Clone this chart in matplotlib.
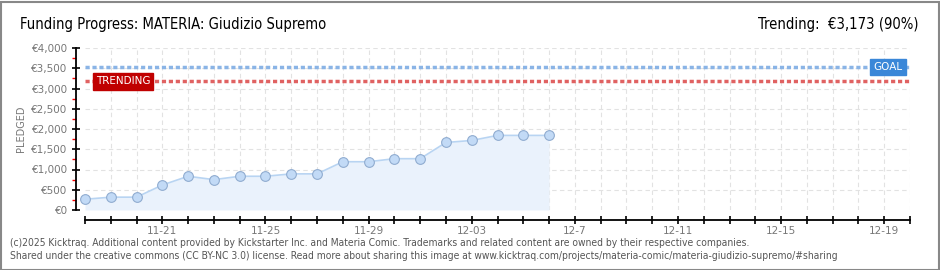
import matplotlib
matplotlib.use("Agg")
import matplotlib.pyplot as plt
import pandas as pd
import numpy as np
from matplotlib.patches import Rectangle

# ---- data ----
dates = pd.date_range("2025-11-18", "2025-12-06", freq="D")
pledged = [265, 317, 317, 617, 833, 750, 833, 833, 892, 892,
           1192, 1192, 1267, 1267, 1667, 1717, 1842, 1842, 1842]
goal = 3525
trending = 3173
xstart, xend = pd.Timestamp("2025-11-18"), pd.Timestamp("2025-12-20")
label_dates = pd.to_datetime(["2025-11-21", "2025-11-25", "2025-11-29", "2025-12-03",
                              "2025-12-07", "2025-12-11", "2025-12-15", "2025-12-19"])
label_texts = ["11-21", "11-25", "11-29", "12-03", "12-7", "12-11", "12-15", "12-19"]
y_ticks = [0, 500, 1000, 1500, 2000, 2500, 3000, 3500, 4000]
y_labels = ["€0", "€500", "€1,000", "€1,500", "€2,000", "€2,500", "€3,000", "€3,500", "€4,000"]

W, H = 940, 270
fig = plt.figure(figsize=(W / 100, H / 100), dpi=100)
fig.patch.set_facecolor("white")

grey = "#777777"
COND = dict(family="DejaVu Sans", stretch="condensed")

# frame
fig.add_artist(Rectangle((0.5 / W, 0.5 / H), 1 - 2 / W, 1 - 2 / H, transform=fig.transFigure,
                         fill=False, edgecolor="#888888", lw=1.5))

ax = fig.add_axes([85 / W, 1 - 210 / H, 825 / W, 162 / H])
ax.set_xlim(xstart, xend)
ax.set_ylim(0, 4000)

# grid
for d in pd.date_range(xstart, xend, freq="D")[1:]:
    ax.axvline(d, color="#e2e2e2", lw=0.8, ls=(0, (4, 3)), zorder=0)
for yv in y_ticks[1:]:
    ax.axhline(yv, color="#e2e2e2", lw=0.8, ls=(0, (4, 3)), zorder=0)

# series
ax.fill_between(dates, pledged, 0, color="#eaf2fc", zorder=1, lw=0)
ax.plot(dates, pledged, color="#b8d4f2", lw=1.2, zorder=2)
ax.plot(dates, pledged, ls="none", marker="o", ms=7, mfc="#c2daf6", mec="#90acd0",
        mew=0.8, zorder=3, clip_on=False)

# goal / trending lines
ax.axhline(goal, color="#8ab4e6", lw=2.5, ls=(0, (1.2, 0.8)), zorder=2)
ax.axhline(trending, color="#e06262", lw=2.5, ls=(0, (1.2, 0.8)), zorder=2)

ax.text(pd.Timestamp("2025-11-18") + pd.Timedelta(hours=10), trending, "TRENDING",
        fontsize=7.5, color="white", va="center", ha="left", zorder=5,
        bbox=dict(boxstyle="square,pad=0.3", fc="#c00000", ec="#c00000"))
ax.text(pd.Timestamp("2025-12-18") + pd.Timedelta(hours=14), goal, "GOAL",
        fontsize=7.5, color="white", va="center", ha="left", zorder=5,
        bbox=dict(boxstyle="square,pad=0.3", fc="#3a87d8", ec="#3a87d8"))

# spines
for s in ["top", "right"]:
    ax.spines[s].set_visible(False)
ax.spines["left"].set_position(("outward", 6.5))
ax.spines["bottom"].set_position(("outward", 7.2))
ax.spines["left"].set_color("black")
ax.spines["bottom"].set_color("black")
ax.spines["left"].set_linewidth(1.3)
ax.spines["bottom"].set_linewidth(1.3)

ax.set_yticks(y_ticks)
ax.set_yticklabels(y_labels, fontsize=7.5, color=grey)
ax.set_yticks(np.arange(250, 4000, 500), minor=True)
ax.tick_params(axis="y", which="major", direction="inout", length=6, width=1.2, color="black", pad=3)
ax.tick_params(axis="y", which="minor", direction="out", length=3, width=1, color="red")

ax.set_xticks(pd.date_range(xstart, xend, freq="D"), minor=True)
ax.set_xticks(label_dates)
ax.set_xticklabels(label_texts, fontsize=7.5, color=grey)
ax.tick_params(axis="x", which="both", direction="inout", length=6, width=1.2, color="black", pad=1)

ax.set_ylabel("PLEDGED", fontsize=7, color=grey, labelpad=4)

ax.set_facecolor("none")

# titles
fig.text(20 / W, 1 - 24 / H, "Funding Progress: MATERIA: Giudizio Supremo",
         fontsize=10.6, color="black", va="center", ha="left", **COND)
fig.text(918 / W, 1 - 24 / H, "Trending:  €3,173 (90%)",
         fontsize=10.6, color="black", va="center", ha="right", **COND)

# footer
fig.text(10 / W, 1 - 243 / H,
         "(c)2025 Kicktraq. Additional content provided by Kickstarter Inc. and Materia Comic. "
         "Trademarks and related content are owned by their respective companies.",
         fontsize=7.4, color="#555555", va="center", ha="left", **COND)
fig.text(10 / W, 1 - 256 / H,
         "Shared under the creative commons (CC BY-NC 3.0) license. Read more about sharing this image at "
         "www.kicktraq.com/projects/materia-comic/materia-giudizio-supremo/#sharing",
         fontsize=7.4, color="#555555", va="center", ha="left", **COND)

fig.savefig("out.png", dpi=100)
